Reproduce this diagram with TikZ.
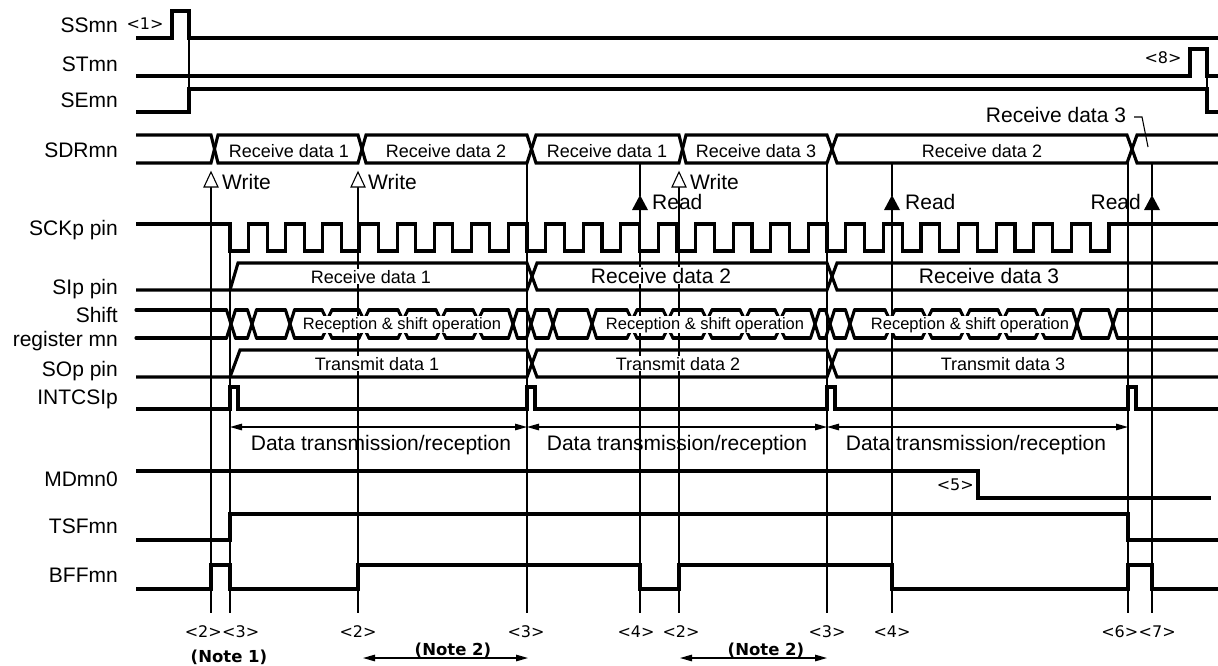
\documentclass[tikz,border=0pt]{standalone}
\usepackage{fontspec}
\setmainfont{Liberation Sans}
\newfontfamily\dvs{DejaVu Sans}
\usetikzlibrary{arrows.meta}
\begin{document}
\begin{tikzpicture}[x=1pt,y=-1pt,
  sig/.style={line width=3.1pt, line join=miter, line cap=butt},
  bus/.style={line width=3.1pt, line cap=round, line join=round},
  vl/.style={line width=1.3pt},
  lab/.style={anchor=base east, inner sep=0pt, font=\fontsize{21}{24}\selectfont},
  dat/.style={anchor=base, inner sep=0pt, font=\fontsize{18}{20}\selectfont},
  big/.style={anchor=base, inner sep=0pt, font=\fontsize{21}{24}\selectfont},
  wbg/.style={fill=white, inner sep=0.8pt},
  shf/.style={anchor=base, inner sep=0.6pt, fill=white, font=\fontsize{16.5}{18}\selectfont},
  tag/.style={anchor=base, inner sep=0pt, font=\dvs\fontsize{16}{18}\selectfont},
  note/.style={anchor=base, inner sep=0pt, font=\dvs\bfseries\fontsize{16.5}{18}\selectfont},
  tarr/.style={line width=1.3pt, {Triangle[length=12pt,width=6.5pt]}-{Triangle[length=12pt,width=6.5pt]}},
  rdtri/.style={fill=black},
  wrtri/.style={draw=black, line width=1.1pt, fill=white},
]
\useasboundingbox (0,0) rectangle (1218,665);

% ---------- vertical guide lines ----------
\foreach \x/\ya in {211/187, 358/187, 527/163, 679/187, 827/163, 1128/163}
  \draw[vl] (\x,\ya) -- (\x,613);
\draw[vl] (230,224) -- (230,613);
\foreach \x in {640, 892, 1152} {
  \draw[vl] (\x,163) -- (\x,196);
  \draw[vl] (\x,209) -- (\x,613);
}
\draw[vl] (189,38) -- (189,89);
\draw[vl] (1207,76) -- (1207,89);

% ---------- signal names ----------
\node[lab] (nSS)  at (118,32)  {SSmn};
\node[lab] (nST)  at (118,71)  {STmn};
\node[lab] (nSE)  at (118,107) {SEmn};
\node[lab] (nSDR) at (118,157) {SDRmn};
\node[lab] (nSCK) at (118,235) {SCKp pin};
\node[lab] (nSI)  at (118,294) {SIp pin};
\node[lab] (nSH1) at (118,322) {Shift};
\node[lab] (nSH2) at (118,346) {register mn};
\node[lab] (nSO)  at (118,376) {SOp pin};
\node[lab] (nINT) at (118,404) {INTCSIp};
\node[lab] (nMD)  at (118,486) {MDmn0};
\node[lab] (nTSF) at (118,533) {TSFmn};
\node[lab] (nBFF) at (118,582) {BFFmn};

% ---------- SSmn / STmn / SEmn ----------
\draw[sig] (136,38) -- (172,38) -- (172,11) -- (189,11) -- (189,38) -- (1218,38);
\draw[sig] (136,76) -- (1190,76) -- (1190,49) -- (1207,49) -- (1207,76) -- (1218,76);
\draw[sig] (136,112) -- (189,112) -- (189,89) -- (1207,89) -- (1207,112) -- (1218,112);
\node[tag] (t1) at (145,29) {<1>};
\node[tag] (t8) at (1163,63) {<8>};

% ---------- SDRmn ----------
\draw[sig] (136,135) -- (211,135) -- (218,163) -- (358,163) -- (366,135) -- (527,135)
  -- (536,163) -- (679,163) -- (686,135) -- (827,135) -- (837,163) -- (1127,163)
  -- (1137,135) -- (1218,135);
\draw[sig] (136,163) -- (211,163) -- (218,135) -- (358,135) -- (366,163) -- (527,163)
  -- (536,135) -- (679,135) -- (686,163) -- (827,163) -- (837,135) -- (1127,135)
  -- (1137,163) -- (1218,163);
\node[dat] (d1) at (289,157) {Receive data 1};
\node[dat] (d2) at (446,157) {Receive data 2};
\node[dat] (d3) at (607,157) {Receive data 1};
\node[dat] (d4) at (756,157) {Receive data 3};
\node[dat] (d5) at (982,157) {Receive data 2};
\node[big] (d6) at (1056,122) {Receive data 3};
\draw[line width=1.1pt] (1134,117) -- (1142,117) -- (1148,147);

% Write / Read markers
\foreach \x in {211, 358, 679}
  \draw[wrtri] (\x,172) -- (\x+7,187) -- (\x-7,187) -- cycle;
\node[big, anchor=base west] (w1) at (222,189) {Write};
\node[big, anchor=base west] (w2) at (368,189) {Write};
\node[big, anchor=base west] (w3) at (690,189) {Write};
\foreach \x in {640, 892, 1152}
  \fill[rdtri] (\x,195) -- (\x+8,210) -- (\x-8,210) -- cycle;
\node[big, anchor=base west] (r1) at (652,209) {Read};
\node[big, anchor=base west] (r2) at (905,209) {Read};
\node[big, anchor=base east] (r3) at (1141,209) {Read};

% ---------- SCKp pin ----------
\draw[sig] (136,224) -- (230,224)
  \foreach \i in {1,...,8} { -- ++(0,27) -- ++(18.5625,0) -- ++(0,-27) -- ++(18.5625,0) }
  \foreach \i in {1,...,8} { -- ++(0,27) -- ++(18.75,0) -- ++(0,-27) -- ++(18.75,0) }
  \foreach \i in {1,...,7} { -- ++(0,27) -- ++(18.8,0) -- ++(0,-27) -- ++(18.8,0) }
  -- ++(0,27) -- ++(18.8,0) -- ++(0,-27) -- (1218,224);

% ---------- SIp pin ----------
\draw[sig] (136,290) -- (527,290) -- (537,263) -- (827,263) -- (837,290) -- (1218,290);
\draw[sig] (230,290) -- (238,263) -- (527,263) -- (537,290) -- (827,290) -- (837,263) -- (1218,263);
\node[dat, wbg] (s1) at (371,283) {Receive data 1};
\node[big, wbg] (s2) at (661,283) {Receive data 2};
\node[big, wbg] (s3) at (989,283) {Receive data 3};

% ---------- Shift register mn ----------
\foreach \a/\b in {136/226.5, 235.5/247.5, 256.5/285.5, 294.5/322, 332/359, 369/398,
  408/436, 446/473, 483/508.5, 517.5/526.5, 535.5/548.5, 557.5/587.5, 596.5/627,
  637/663, 673/702, 712/740, 750/775, 785/810.5, 819.5/825.5, 834.5/845.5, 854.5/885,
  895/922, 932/960, 970/998, 1008/1035, 1045/1072.5, 1081.5/1108.5, 1117.5/1218} {
  \draw[bus] (\a,310) -- (\b,310);
  \draw[bus] (\a,338) -- (\b,338);
}
\foreach \c in {231, 252, 290, 513, 531, 553, 592, 815, 830, 850, 1077, 1113} {
  \draw[bus] (\c-4.5,310) -- (\c+4.5,338);
  \draw[bus] (\c-4.5,338) -- (\c+4.5,310);
}
\foreach \c in {327, 364, 403, 441, 478, 632, 668, 707, 745, 780, 890, 927, 965, 1003, 1040} {
  \draw[bus] (\c-5,310) -- (\c-2,316) -- (\c-2,332) -- (\c-5,338);
  \draw[bus] (\c+5,310) -- (\c+2,316) -- (\c+2,332) -- (\c+5,338);
}
\node[shf] (h1) at (402,329) {Reception \& shift operation};
\node[shf] (h2) at (705,329) {Reception \& shift operation};
\node[shf] (h3) at (970,329) {Reception \& shift operation};

% ---------- SOp pin ----------
\draw[sig] (136,377) -- (527,377) -- (537,350) -- (827,350) -- (837,377) -- (1218,377);
\draw[sig] (230,377) -- (240,350) -- (527,350) -- (537,377) -- (827,377) -- (837,350) -- (1218,350);
\node[dat, wbg] (o1) at (377,370) {Transmit data 1};
\node[dat, wbg] (o2) at (678,370) {Transmit data 2};
\node[dat, wbg] (o3) at (1003,370) {Transmit data 3};

% ---------- INTCSIp ----------
\draw[sig] (136,409) -- (230,409) -- (230,387) -- (238,387) -- (238,409) -- (527,409)
  -- (527,387) -- (535,387) -- (535,409) -- (827,409) -- (827,387) -- (835,387)
  -- (835,409) -- (1128,409) -- (1128,387) -- (1136,387) -- (1136,409) -- (1218,409);

% ---------- Data transmission/reception ----------
\coordinate (f1) at (230,427);
\coordinate (f2) at (527,427);
\coordinate (f3) at (827,427);
\coordinate (f4) at (1128,427);
\draw[tarr] (f1) -- (f2);
\draw[tarr] (f2) -- (f3);
\draw[tarr] (f3) -- (f4);
\node[big] (dt1) at (381,450) {Data transmission/reception};
\node[big] (dt2) at (677,450) {Data transmission/reception};
\node[big] (dt3) at (976,450) {Data transmission/reception};

% ---------- MDmn0 / TSFmn / BFFmn ----------
\draw[sig] (136,471) -- (978,471) -- (978,498) -- (1211,498);
\node[tag, anchor=base east] (t5) at (974,490) {<5>};
\draw[sig] (136,540) -- (230,540) -- (230,514) -- (1128,514) -- (1128,540) -- (1218,540);
\draw[sig] (136,589) -- (211,589) -- (211,565) -- (230,565) -- (230,589) -- (358,589)
  -- (358,565) -- (640,565) -- (640,589) -- (679,589) -- (679,565) -- (892,565)
  -- (892,589) -- (1128,589) -- (1128,565) -- (1152,565) -- (1152,589) -- (1218,589);

% ---------- timing tags ----------
\node[tag, anchor=base east] (b2a) at (222,637) {<2>};
\node[tag, anchor=base west] (b3a) at (222,637) {<3>};
\node[tag] (b2b) at (358,637) {<2>};
\node[tag] (b3b) at (526,637) {<3>};
\node[tag] (b4a) at (636,637) {<4>};
\node[tag] (b2c) at (681,637) {<2>};
\node[tag] (b3c) at (827,637) {<3>};
\node[tag] (b4b) at (892,637) {<4>};
\node[tag, anchor=base east] (b6) at (1138.5,637) {<6>};
\node[tag, anchor=base west] (b7) at (1138.5,637) {<7>};

\node[note] (n1) at (229,662) {(Note 1)};
\node[note] (n2a) at (453,655) {(Note 2)};
\node[note] (n2b) at (766,655) {(Note 2)};
\coordinate (na1) at (363,658);
\coordinate (na2) at (528,658);
\coordinate (nb1) at (680,658);
\coordinate (nb2) at (827,658);
\draw[tarr] (na1) -- (na2);
\draw[tarr] (nb1) -- (nb2);
\end{tikzpicture}
\end{document}
